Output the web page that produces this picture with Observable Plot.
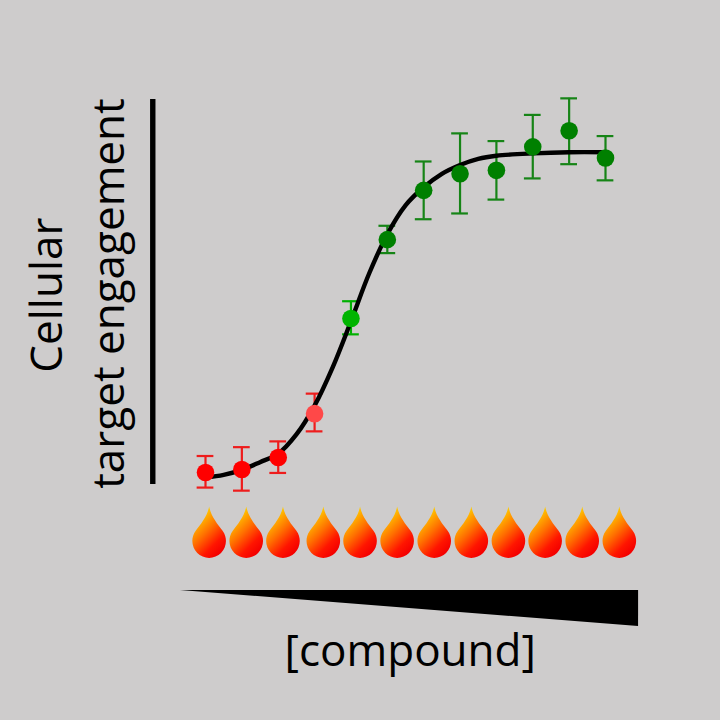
<!DOCTYPE html>
<html>
<head>
<meta charset="utf-8">
<script src="https://cdn.jsdelivr.net/npm/d3@7"></script>
<script src="https://cdn.jsdelivr.net/npm/@observablehq/plot@0.6"></script>
<style>html,body{margin:0;padding:0;background:#cecccc}svg{display:block}</style>
</head>
<body>
<div id="chart"></div>
<script>
const doses = [1,2,3,4,5,6,7,8,9,10,11,12];
const engagement = [3.1,3.9,7,18.4,43.1,63.6,76.4,80.7,81.6,87.7,91.9,84.8];
const errLow = [-0.8,-1.6,3,13.8,39,60.1,68.9,70.4,74,79.5,83.2,79];
const errHigh = [7.4,9.7,11.2,23.6,47.6,67.2,83.9,91.2,89.2,96,100.3,90.5];
const pointColors = ["#ff0000","#ff0000","#ff0000","#ff4848","#00b400","#008000","#008000","#008000","#008000","#008000","#008000","#008000"];
const barColors = ["#ee1c1c","#ee1c1c","#ee1c1c","#ee1c1c","#00b000","#168416","#168416","#168416","#168416","#168416","#168416","#168416"];
const curveX = [1,1.5,2,2.5,3,3.5,4,4.5,5,5.5,6,6.5,7,7.5,8,8.5,9,10,11,12];
const curveY = [1.8,2.5,3.8,5.8,8,13,20.5,30.5,42.4,54.8,65,72.5,77.2,80.7,83,84.6,85.4,86,86.3,86.3];
const flameX = [1.1,2.12,3.13,4.24,5.25,6.27,7.29,8.31,9.33,10.34,11.36,12.38];
const wedgeX = [0.31,12.91];
const wedgeTop = [-27.5,-27.5];
const wedgeBottom = [-27.5,-36.9];
const yLabels = ["Cellular","target engagement"];
const xLabel = "[compound]";

const drop = {
  draw(c, size) {
    const r = Math.sqrt(size / Math.PI);
    c.moveTo(0, -2.06 * r);
    c.bezierCurveTo(0.1 * r, -1.5 * r, 0.5 * r, -1.0 * r, 0.8 * r, -0.62 * r);
    c.bezierCurveTo(0.95 * r, -0.42 * r, 1.0 * r, -0.2 * r, 1.0 * r, 0);
    c.arc(0, 0, r, 0, Math.PI);
    c.bezierCurveTo(-1.0 * r, -0.2 * r, -0.95 * r, -0.42 * r, -0.8 * r, -0.62 * r);
    c.bezierCurveTo(-0.5 * r, -1.0 * r, -0.1 * r, -1.5 * r, 0, -2.06 * r);
    c.closePath();
  }
};

const idx = doses.map((_, i) => i);
const font = "'Open Sans', sans-serif";
const plot = Plot.plot({
  width: 720, height: 720,
  margin: 0,
  style: {background: "#cecccc", fontFamily: font},
  x: {domain: [1, 12], range: [205, 605], axis: null},
  y: {domain: [0, 100], range: [484, 99], axis: null},
  marks: [
    Plot.ruleX([-0.45], {y1: 0, y2: 100, stroke: "black", strokeWidth: 5.4}),
    Plot.areaY(wedgeX.map((x, i) => ({x, a: wedgeTop[i], b: wedgeBottom[i]})), {x: "x", y1: "a", y2: "b", fill: "black"}),
    Plot.ruleX(idx, {x: i => doses[i], y1: i => errLow[i], y2: i => errHigh[i], stroke: i => barColors[i], strokeWidth: 2.2}),
    Plot.ruleY(idx, {y: i => errLow[i], x1: i => doses[i] - 0.23, x2: i => doses[i] + 0.23, stroke: i => barColors[i], strokeWidth: 2.2}),
    Plot.ruleY(idx, {y: i => errHigh[i], x1: i => doses[i] - 0.23, x2: i => doses[i] + 0.23, stroke: i => barColors[i], strokeWidth: 2.2}),
    Plot.line(curveX.map((x, i) => ({x, y: curveY[i]})), {x: "x", y: "y", stroke: "black", strokeWidth: 4.4, curve: "catmull-rom"}),
    Plot.dot(idx, {x: i => doses[i], y: i => engagement[i], r: 8.8, fill: i => pointColors[i], stroke: "none"}),
    Plot.dot(flameX, {x: d => d, y: () => -14.7, r: 16.8, symbol: drop, fill: "url(#flame)", stroke: "none"}),
    Plot.text([yLabels[0]], {x: -3.34, y: 49.2, text: d => d, rotate: -90, fontSize: 44, fill: "black"}),
    Plot.text([yLabels[1]], {x: -1.62, y: 49.6, text: d => d, rotate: -90, fontSize: 44, fill: "black"}),
    Plot.text([xLabel], {x: 6.63, y: -43.6, text: d => d, fontSize: 44, fill: "black"})
  ]
});
const defs = d3.select(plot).insert("defs", ":first-child");
const g = defs.append("linearGradient").attr("id", "flame")
  .attr("x1", "0.3").attr("y1", "0.03").attr("x2", "0.85").attr("y2", "0.88");
[[0, "#ffe800"], [0.22, "#ffa800"], [0.45, "#ff7000"], [0.78, "#ff1500"], [1, "#f40000"]].forEach(([o, c]) =>
  g.append("stop").attr("offset", o).attr("stop-color", c));
document.getElementById("chart").append(plot);
</script>
</body>
</html>
